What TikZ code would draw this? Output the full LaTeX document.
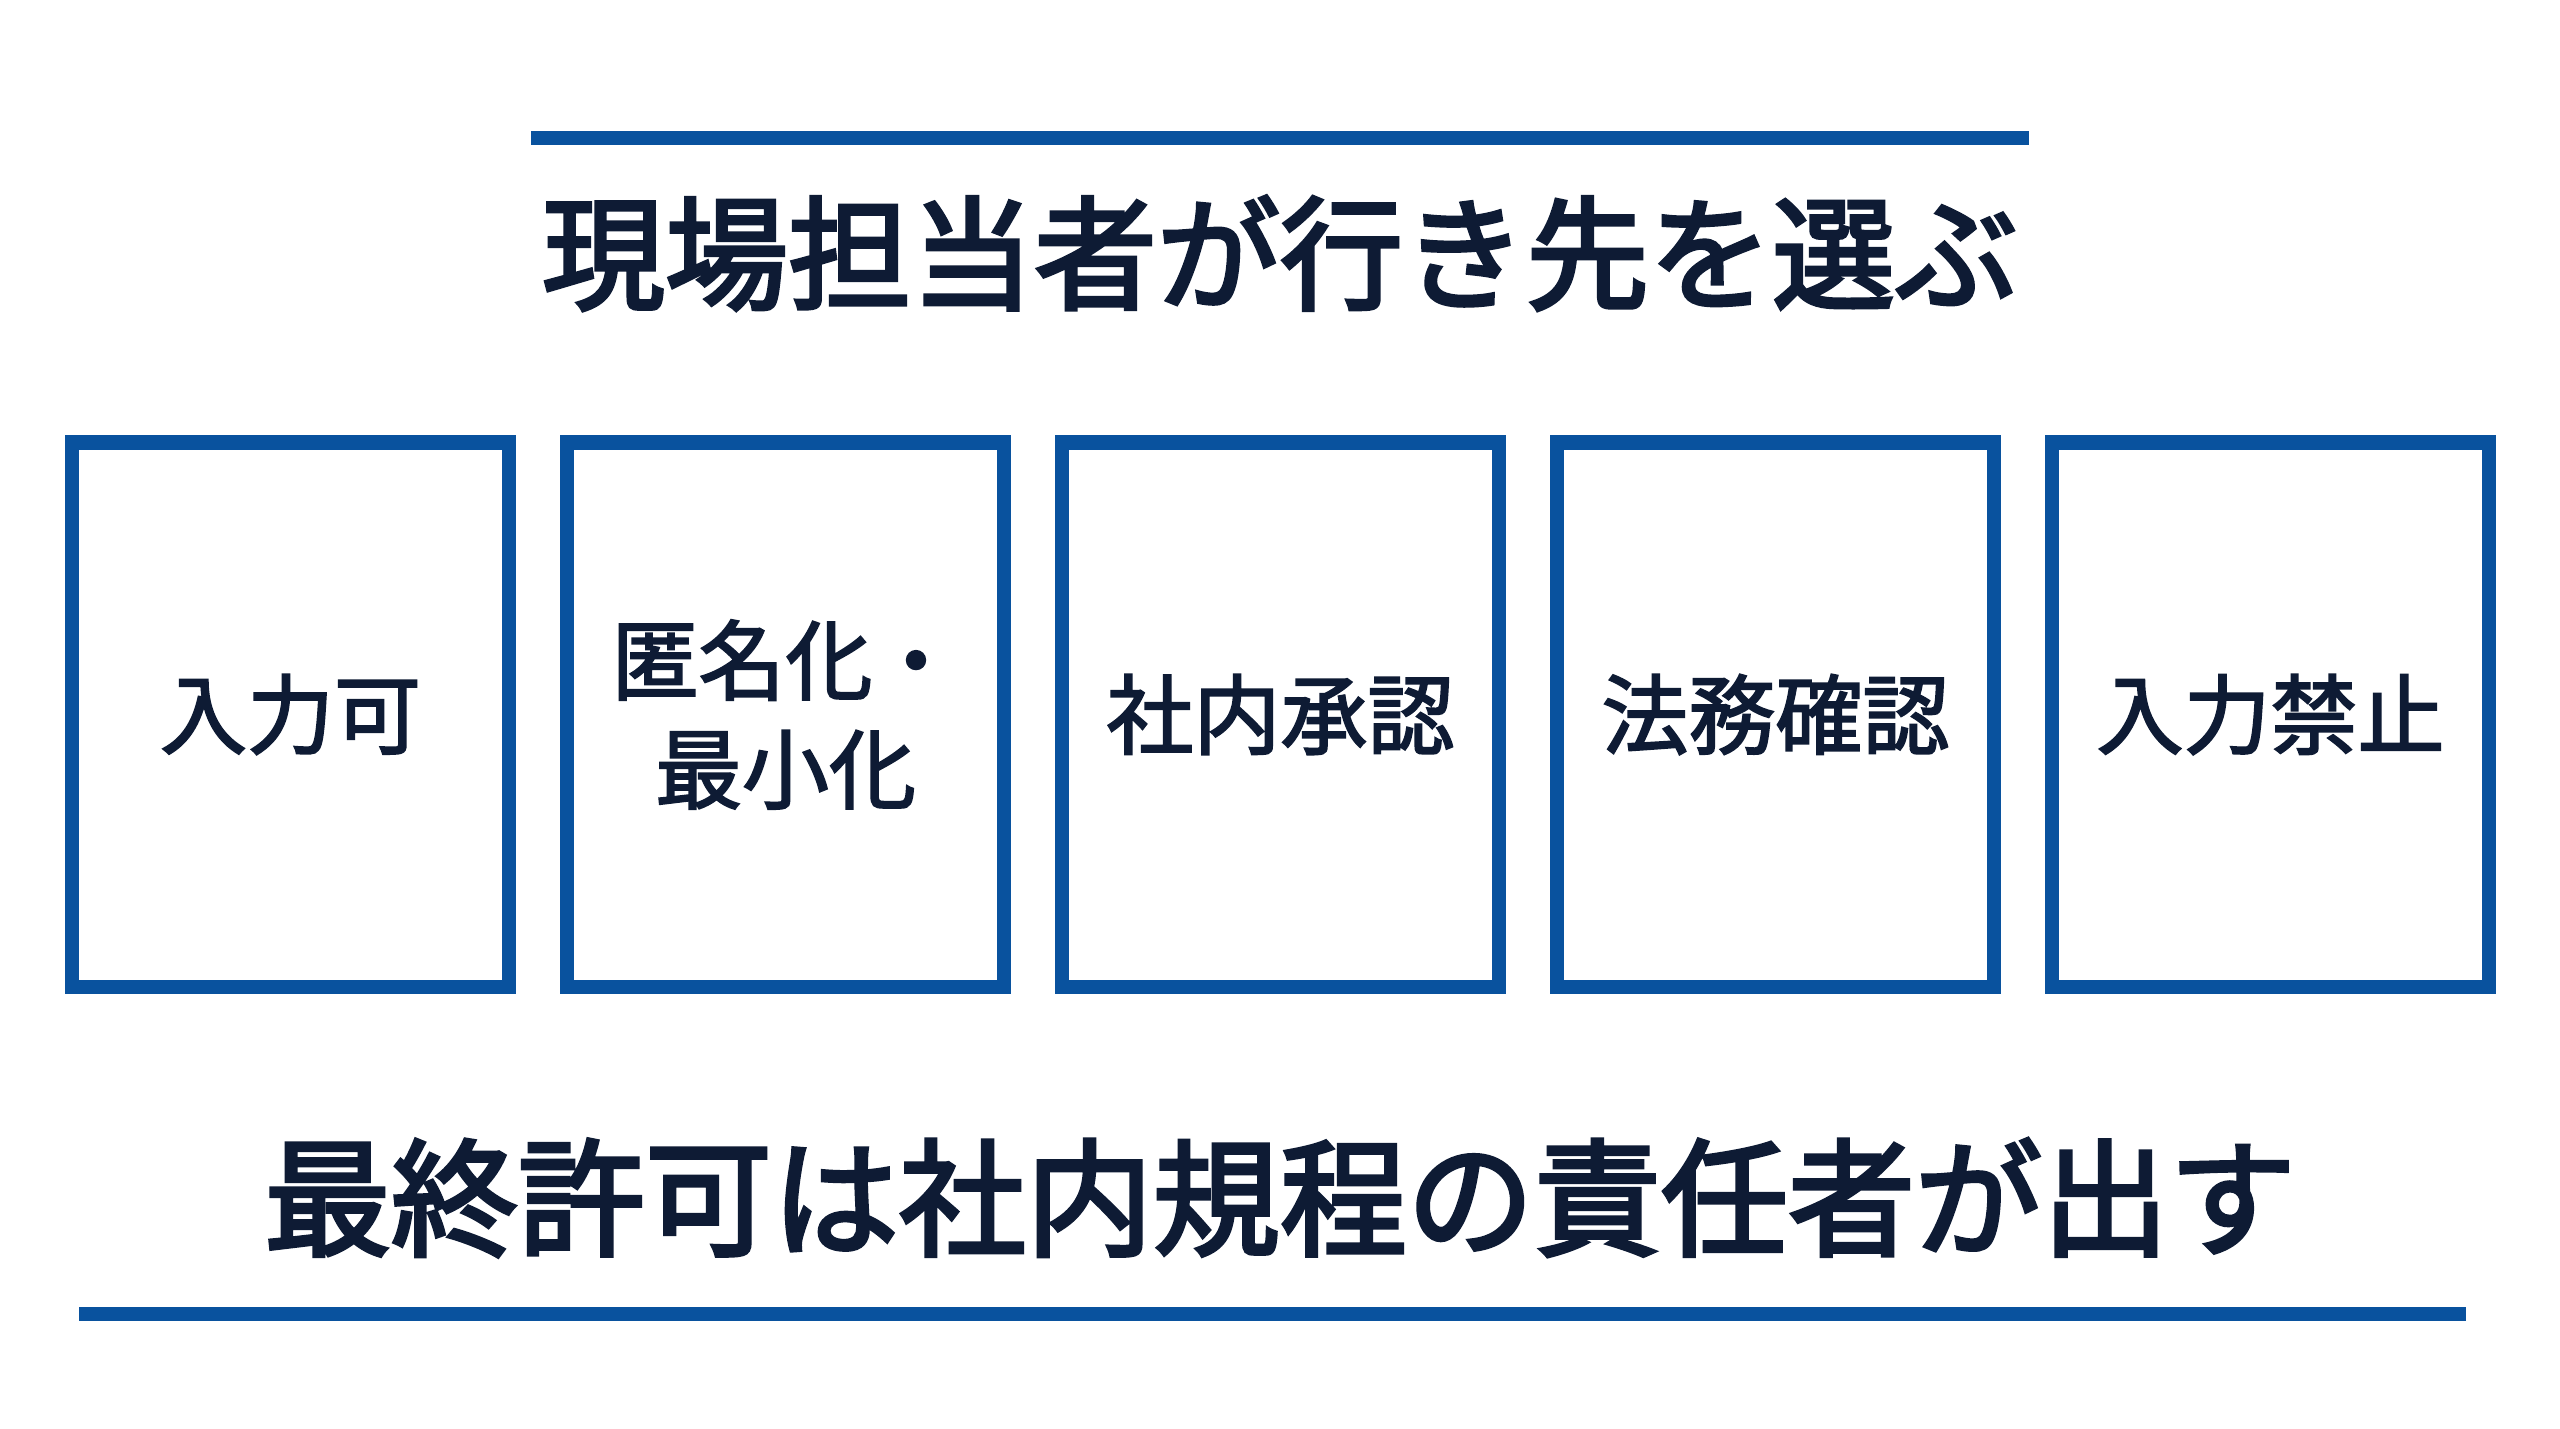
\documentclass[tikz,border=0pt]{standalone}
\usepackage{fontspec}
\newfontfamily\jp{Noto Sans CJK JP}[FakeBold=2.2]
\newfontfamily\jph{Noto Sans CJK JP}[FakeBold=3]
\definecolor{lineblue}{RGB}{9,82,158}
\definecolor{inknavy}{RGB}{14,27,52}
\begin{document}
\begin{tikzpicture}[x=1pt,y=-1pt,
  rule/.style={draw=lineblue,line width=13.5pt},
  choice/.style={draw=lineblue,line width=14.5pt,rectangle,minimum width=437pt,minimum height=544.5pt,inner sep=0pt,text=inknavy,align=center,font=\jp\fontsize{87}{109}\selectfont},
  heading/.style={anchor=base,inner sep=0pt,text=inknavy}]
\useasboundingbox[fill=white] (0,0) rectangle (2560,1429);
% rules
\coordinate (tl) at (531,138);
\coordinate (tr) at (2029,138);
\coordinate (bl) at (79,1314);
\coordinate (br) at (2466,1314);
\draw[rule] (tl) -- (tr);
\draw[rule] (bl) -- (br);
% headings
\node[heading,font=\jph\fontsize{123}{130}\selectfont] (top) at (1280,300) {現場担当者が行き先を選ぶ};
\node[heading,font=\jph\fontsize{127}{135}\selectfont] (bottom) at (1280,1246) {最終許可は社内規程の責任者が出す};
% boxes
\node[choice] (b1) at (290.5,714.5) {入力可};
\node[choice] (b2) at (785.5,714.5) {匿名化・\\最小化};
\node[choice] (b3) at (1280.5,714.5) {社内承認};
\node[choice] (b4) at (1775.5,714.5) {法務確認};
\node[choice] (b5) at (2270.5,714.5) {入力禁止};
\end{tikzpicture}
\end{document}
